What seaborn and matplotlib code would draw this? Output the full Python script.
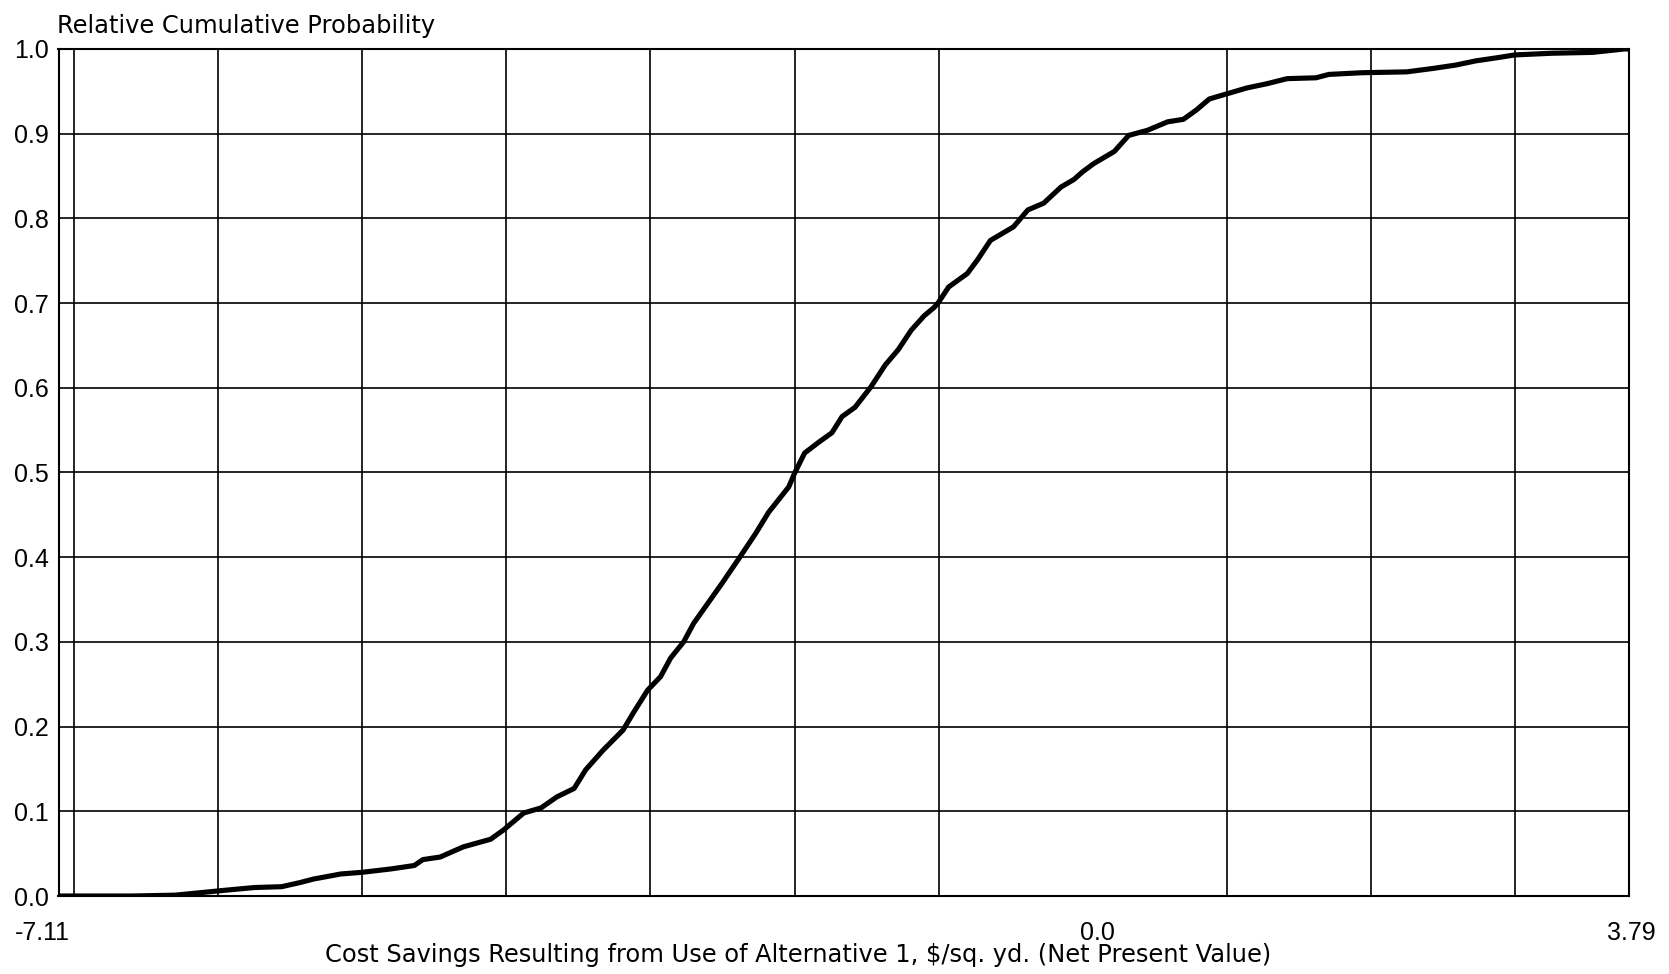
import matplotlib
matplotlib.use("Agg")
import matplotlib.pyplot as plt
from matplotlib.transforms import ScaledTranslation
import seaborn as sns
import pandas as pd
import numpy as np

# ---- data ----
savings = [-7.11, -6.6, -6.3, -6.12, -5.94, -5.75, -5.56, -5.43, -5.34, -5.15,
           -5.00, -4.80, -4.64, -4.58, -4.46, -4.30, -4.11, -4.02, -3.88, -3.76,
           -3.65, -3.53, -3.45, -3.33, -3.19, -3.12, -3.02, -2.93, -2.86, -2.77,
           -2.70, -2.60, -2.50, -2.38, -2.27, -2.18, -2.04, -2.00, -1.93, -1.83,
           -1.74, -1.67, -1.58, -1.47, -1.37, -1.28, -1.19, -1.10, -1.03, -1.00,
           -0.93, -0.80, -0.73, -0.64, -0.48, -0.38, -0.27, -0.15, -0.06, 0.0,
           0.08, 0.22, 0.32, 0.45, 0.59, 0.70, 0.79, 0.88, 1.00, 1.14,
           1.28, 1.42, 1.62, 1.71, 1.94, 2.25, 2.43, 2.59, 2.73, 2.89,
           3.0, 3.26, 3.54, 3.76, 3.79]
cum_prob = [0.0, 0.0, 0.001, 0.004, 0.007, 0.010, 0.011, 0.016, 0.020, 0.026,
            0.028, 0.032, 0.036, 0.043, 0.046, 0.058, 0.067, 0.078, 0.098, 0.104,
            0.117, 0.127, 0.149, 0.172, 0.196, 0.216, 0.243, 0.259, 0.281, 0.300,
            0.322, 0.346, 0.370, 0.400, 0.428, 0.453, 0.483, 0.499, 0.523, 0.536,
            0.547, 0.566, 0.577, 0.601, 0.627, 0.645, 0.668, 0.685, 0.695, 0.701,
            0.719, 0.735, 0.751, 0.774, 0.790, 0.810, 0.818, 0.837, 0.846, 0.855,
            0.865, 0.879, 0.898, 0.904, 0.914, 0.917, 0.928, 0.941, 0.947, 0.954,
            0.959, 0.965, 0.966, 0.970, 0.972, 0.973, 0.977, 0.981, 0.986, 0.990,
            0.993, 0.995, 0.996, 1.0, 1.0]

x_tick_values = [-7.11, 0.0, 3.79]
x_tick_labels = ["-7.11", "0.0", "3.79"]
x_grid_values = [-7, -6, -5, -4, -3, -2, -1, 0, 1, 2, 3]
y_tick_values = [0.0, 0.1, 0.2, 0.3, 0.4, 0.5, 0.6, 0.7, 0.8, 0.9, 1.0]
y_tick_labels = ["0.0", "0.1", "0.2", "0.3", "0.4", "0.5", "0.6", "0.7", "0.8", "0.9", "1.0"]

y_title = "Relative Cumulative Probability"
x_title = "Cost Savings Resulting from Use of Alternative 1, $/sq. yd. (Net Present Value)"

# ---- styling ----
sns.set_theme(style="white")
plt.rcParams["font.family"] = ["Liberation Sans", "DejaVu Sans"]

W, H, DPI = 1669, 974, 100
fig = plt.figure(figsize=(W / DPI, H / DPI), dpi=DPI)
ax_left, ax_right, ax_top, ax_bottom = 58.5, 1628.5, 49, 896
ax = fig.add_axes([ax_left / W, 1 - ax_bottom / H,
                   (ax_right - ax_left) / W, (ax_bottom - ax_top) / H])

df = pd.DataFrame({"savings": savings, "prob": cum_prob})
sns.lineplot(data=df, x="savings", y="prob", ax=ax, color="black",
             linewidth=3.7, sort=False, estimator=None,
             solid_joinstyle="round", solid_capstyle="round", zorder=5)

ax.set_xlim(-7.11, 3.79)
ax.set_ylim(0.0, 1.0)

ax.set_xticks(x_tick_values)
ax.set_xticklabels(x_tick_labels)
ax.set_xticks(x_grid_values, minor=True)
ax.set_yticks(y_tick_values)
ax.set_yticklabels(y_tick_labels)

ax.grid(False)
ax.xaxis.grid(True, which="minor", color="black", linewidth=1.2)
ax.yaxis.grid(True, which="major", color="black", linewidth=1.2)
ax.set_axisbelow(True)

ax.tick_params(axis="both", which="both", length=0)
ax.tick_params(axis="x", which="major", labelsize=18, pad=18, labelcolor="black")
ax.tick_params(axis="y", which="major", labelsize=18, pad=7, labelcolor="black")

for sp in ax.spines.values():
    sp.set_visible(True)
    sp.set_color("black")
    sp.set_linewidth(1.5)

# per-label horizontal offsets (pixels) as in the reference
offsets = [-16.5, 15, 3]
for lab, dx in zip(ax.get_xticklabels(), offsets):
    lab.set_transform(lab.get_transform() + ScaledTranslation(dx / DPI, 0, fig.dpi_scale_trans))

ax.set_xlabel(x_title, fontsize=17.4, color="black", va="baseline", ha="center",
              family=["DejaVu Sans"])
ax.xaxis.set_label_coords((798 - ax_left) / (ax_right - ax_left),
                          (ax_bottom - 962) / (ax_bottom - ax_top))
ax.set_ylabel("")

fig.text(57 / W, 1 - 33 / H, y_title, fontsize=17.4, color="black",
         ha="left", va="baseline", family=["DejaVu Sans"])

fig.patch.set_facecolor("white")
ax.set_facecolor("white")
fig.savefig("out.png", dpi=DPI, facecolor="white")
